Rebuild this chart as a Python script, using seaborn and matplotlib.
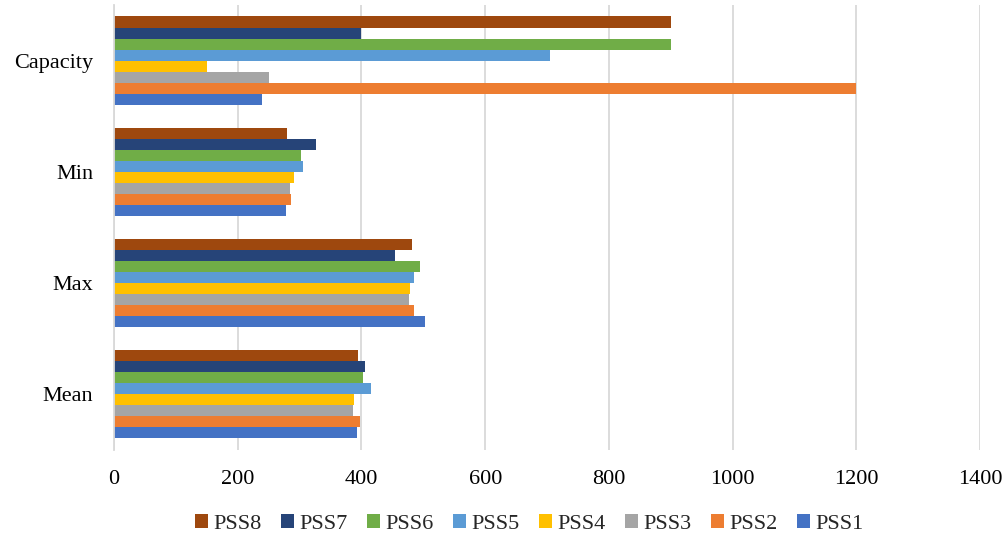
import matplotlib
matplotlib.use("Agg")
import matplotlib.pyplot as plt
import seaborn as sns
import pandas as pd

categories = ["Capacity", "Min", "Max", "Mean"]
series = ["PSS8", "PSS7", "PSS6", "PSS5", "PSS4", "PSS3", "PSS2", "PSS1"]

pss1 = [240, 278, 502, 393]
pss2 = [1200, 286, 485, 398]
pss3 = [250, 285, 477, 387]
pss4 = [150, 291, 479, 388]
pss5 = [705, 306, 485, 416]
pss6 = [900, 302, 494, 403]
pss7 = [400, 327, 455, 405]
pss8 = [900, 280, 482, 395]

colors = {
    "PSS1": "#4472C4", "PSS2": "#ED7D31", "PSS3": "#A5A5A5", "PSS4": "#FFC000",
    "PSS5": "#5B9BD5", "PSS6": "#70AD47", "PSS7": "#264478", "PSS8": "#9E480E",
}

values = {"PSS1": pss1, "PSS2": pss2, "PSS3": pss3, "PSS4": pss4,
          "PSS5": pss5, "PSS6": pss6, "PSS7": pss7, "PSS8": pss8}
rows = []
for name, vals in values.items():
    for cat, v in zip(categories, vals):
        rows.append({"category": cat, "series": name, "value": v})
df = pd.DataFrame(rows)

sns.set_style("white")
plt.rcParams["font.family"] = ["Liberation Serif", "DejaVu Serif"]

fig = plt.figure(figsize=(10.06, 5.39), dpi=100)
ax = fig.add_axes([0.1133, 0.166, 0.861, 0.824])

sns.barplot(data=df, y="category", x="value", hue="series",
            order=categories, hue_order=series, palette=colors,
            orient="h", width=0.8, saturation=1, errorbar=None,
            linewidth=0, ax=ax)

ax.set_xlim(0, 1400)
ax.set_xticks(range(0, 1401, 200))
ax.set_ylim(3.5, -0.5)
ax.xaxis.grid(True, color="#D9D9D9", linewidth=1.3)
ax.set_axisbelow(True)
for s in ["top", "right", "bottom"]:
    ax.spines[s].set_visible(False)
ax.spines["left"].set_color("#D9D9D9")
ax.spines["left"].set_linewidth(1.3)
ax.set_xlabel("")
ax.set_ylabel("")
ax.tick_params(axis="x", length=0, pad=15, labelsize=16, colors="#000000")
ax.tick_params(axis="y", length=0, pad=15, labelsize=16, colors="#000000")

handles, labels = ax.get_legend_handles_labels()
ax.legend_.remove()
fig.legend(handles, labels, loc="center", bbox_to_anchor=(0.526, 0.028),
           ncol=8, frameon=False, fontsize=16, handlelength=0.6,
           handleheight=0.6, handletextpad=0.25, columnspacing=0.85)

fig.savefig("out.png", dpi=100)
